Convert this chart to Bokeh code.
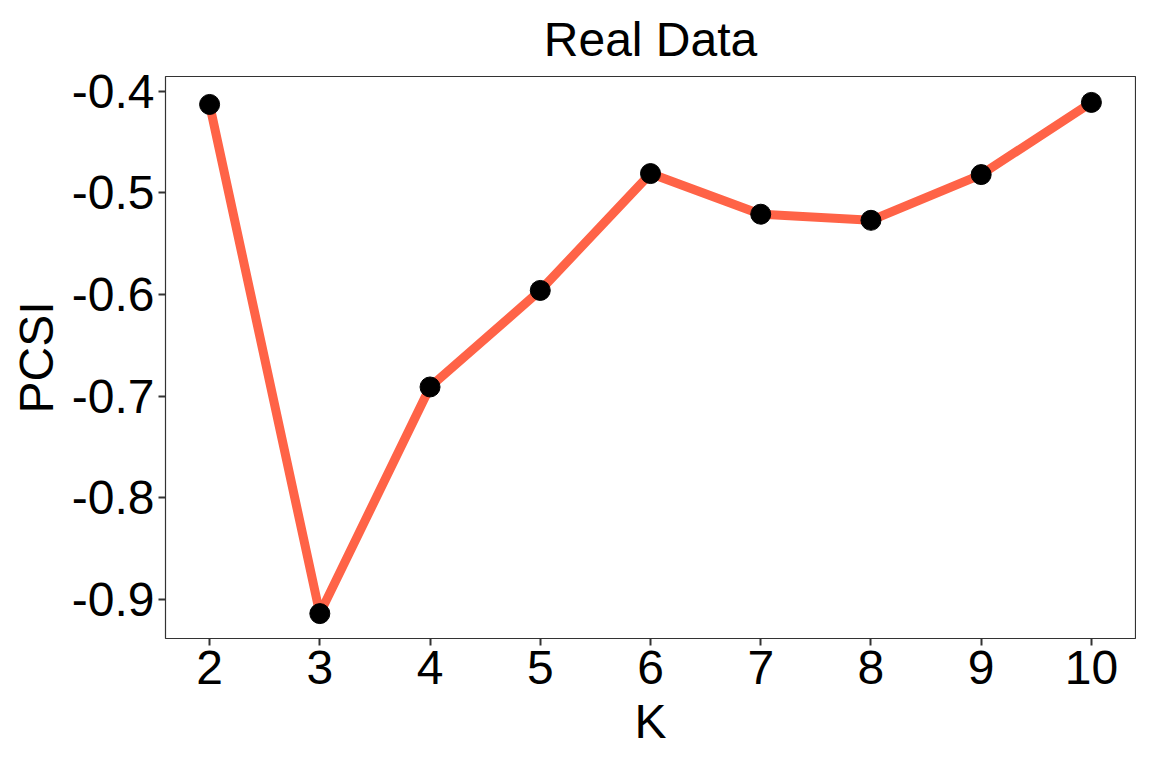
from bokeh.plotting import figure
from bokeh.models import FixedTicker
from bokeh.embed import file_html
from bokeh.resources import INLINE

# values
k_values = [2, 3, 4, 5, 6, 7, 8, 9, 10]
pcsi_values = [-0.413, -0.914, -0.691, -0.596, -0.481, -0.521, -0.527, -0.482, -0.411]

x_ticks = [2, 3, 4, 5, 6, 7, 8, 9, 10]
y_ticks = [-0.9, -0.8, -0.7, -0.6, -0.5, -0.4]
y_tick_labels = ["-0.9", "-0.8", "-0.7", "-0.6", "-0.5", "-0.4"]

FONT = "Liberation Sans"

p = figure(width=1136, height=752, title="Real Data",
           x_range=(1.6, 10.4), y_range=(-0.9385, -0.3855),
           output_backend="svg", toolbar_location=None,
           x_axis_label="K", y_axis_label="PCSI")

p.min_border_left = 165
p.min_border_right = 1
p.min_border_top = 75
p.min_border_bottom = 114

p.title.align = "center"
p.title.text_font = FONT
p.title.text_font_size = "48px"
p.title.text_font_style = "normal"
p.title.text_color = "black"
p.title.standoff = 21

p.xgrid.visible = False
p.ygrid.visible = False
p.outline_line_color = "#333333"
p.outline_line_width = 1.2
p.outline_line_alpha = 1.0

for ax in (p.xaxis[0], p.yaxis[0]):
    ax.axis_line_color = None
    ax.major_tick_in = 0
    ax.major_tick_out = 7
    ax.major_tick_line_color = "#333333"
    ax.major_tick_line_width = 2
    ax.minor_tick_line_color = None
    ax.major_label_text_font = FONT
    ax.major_label_text_font_size = "48px"
    ax.major_label_text_color = "black"
    ax.axis_label_text_font = FONT
    ax.axis_label_text_font_size = "48px"
    ax.axis_label_text_font_style = "normal"
    ax.axis_label_text_color = "black"

p.xaxis.ticker = FixedTicker(ticks=x_ticks)
p.yaxis.ticker = FixedTicker(ticks=y_ticks)
p.yaxis.major_label_overrides = dict(zip(y_ticks, y_tick_labels))
p.xaxis.major_label_standoff = 5
p.yaxis.major_label_standoff = 4
p.xaxis.axis_label_standoff = 8
p.yaxis.axis_label_standoff = 6

p.line(k_values, pcsi_values, line_color="#FF6347", line_width=9)
p.scatter(k_values, pcsi_values, size=20, fill_color="black", line_color="black")

open("out.html", "w").write(file_html(p, INLINE))
